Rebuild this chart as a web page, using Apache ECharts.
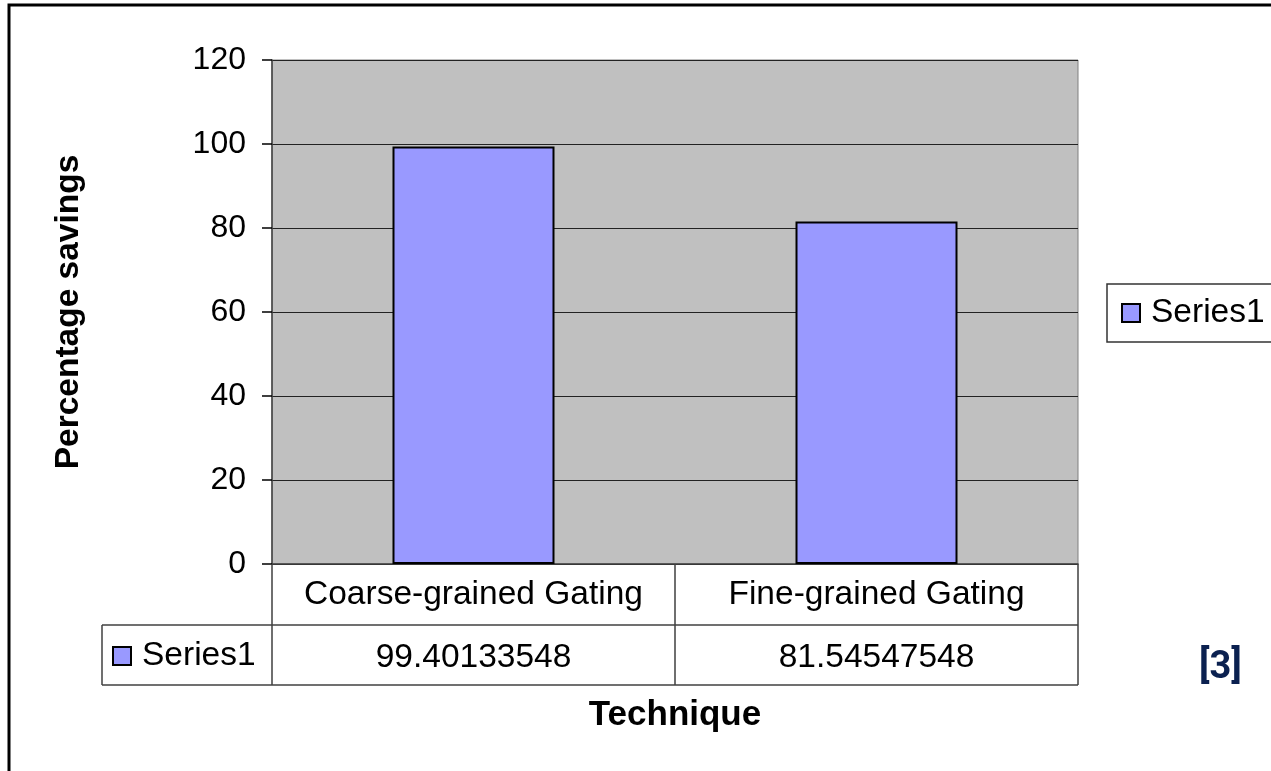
<!DOCTYPE html>
<html>
<head>
<meta charset="utf-8">
<script src="https://cdn.jsdelivr.net/npm/echarts@6/dist/echarts.min.js"></script>
<style>
  html, body { margin: 0; padding: 0; background: #fff; }
  #chart { width: 1271px; height: 771px; }
</style>
</head>
<body>
<div id="chart"></div>
<script>
// data
const categories = ['Coarse-grained Gating', 'Fine-grained Gating'];
const seriesName = 'Series1';
const values = [99.40133548, 81.54547548];
const valueLabels = ['99.40133548', '81.54547548'];
const yTicks = { min: 0, max: 120, step: 20 };

const font = 'Liberation Sans, Arial, sans-serif';
const lineColor = '#404040';

const chart = echarts.init(document.getElementById('chart'));

const legendCommon = {
  data: [seriesName],
  icon: 'rect',
  itemWidth: 18,
  itemHeight: 18,
  itemGap: 0,
  itemStyle: { color: '#9999ff', borderColor: '#000', borderWidth: 2 },
  textStyle: { fontFamily: font, fontSize: 33.5, color: '#000', padding: [0, 0, 0, 6] },
};

chart.setOption({
  animation: false,
  grid: {
    left: 272, top: 60, width: 806, height: 504,
    show: true, backgroundColor: '#c0c0c0', borderColor: '#808080', borderWidth: 1,
  },
  legend: [
    Object.assign({}, legendCommon, {
      left: 1107, top: 284,
      borderColor: '#333', borderWidth: 1.5,
      padding: [12, 20, 12, 14],
    }),
    Object.assign({}, legendCommon, {
      left: 112, top: 639,
      padding: [0, 0, 0, 0],
    }),
  ],
  xAxis: [
    {
      type: 'category',
      data: categories,
      position: 'bottom',
      axisLine: { lineStyle: { color: lineColor, width: 1.5 } },
      axisTick: { show: true, inside: false, interval: 0, length: 121, lineStyle: { color: lineColor, width: 1.5 } },
      axisLabel: { interval: 0, fontFamily: font, fontSize: 33.5, color: '#000', margin: 14 },
      name: 'Technique',
      nameLocation: 'middle',
      nameGap: 134,
      nameTextStyle: { fontFamily: font, fontSize: 35, fontWeight: 'bold', color: '#000' },
    },
    {
      type: 'category',
      data: categories,
      position: 'bottom',
      offset: 60,
      axisLine: { show: false },
      axisTick: { show: false },
      axisLabel: {
        interval: 0,
        fontFamily: font, fontSize: 33.5, color: '#000', margin: 17,
        formatter: (v, i) => valueLabels[i],
      },
    },
  ],
  yAxis: {
    type: 'value',
    min: yTicks.min,
    max: yTicks.max,
    interval: yTicks.step,
    axisLine: { show: true, lineStyle: { color: lineColor, width: 1.5 } },
    axisTick: { show: true, inside: false, length: 10, lineStyle: { color: '#000', width: 1.5 } },
    axisLabel: { fontFamily: font, fontSize: 32, color: '#000', margin: 26 },
    splitLine: { lineStyle: { color: '#222', width: 1 } },
    name: 'Percentage savings',
    nameLocation: 'middle',
    nameRotate: 90,
    nameGap: 186,
    nameTextStyle: { fontFamily: font, fontSize: 33.5, fontWeight: 'bold', color: '#000' },
  },
  series: [
    {
      name: seriesName,
      type: 'bar',
      data: values,
      barWidth: 162,
      itemStyle: { color: '#9999ff', borderColor: '#000', borderWidth: 2 },
    },
  ],
  graphic: [
    // outer chart border
    { type: 'rect', shape: { x: 9, y: 5, width: 1300, height: 800 },
      style: { fill: 'none', stroke: '#000', lineWidth: 3 }, silent: true },
    // data table grid lines
    { type: 'line', shape: { x1: 102, y1: 625, x2: 1078, y2: 625 },
      style: { stroke: lineColor, lineWidth: 1.5 }, silent: true },
    { type: 'line', shape: { x1: 102, y1: 685, x2: 1078, y2: 685 },
      style: { stroke: lineColor, lineWidth: 1.5 }, silent: true },
    { type: 'line', shape: { x1: 102, y1: 625, x2: 102, y2: 685 },
      style: { stroke: lineColor, lineWidth: 1.5 }, silent: true },
    // reference marker
    { type: 'text', left: 1199, top: 649,
      style: { text: '[3]', font: 'bold 38px Roboto, sans-serif', fill: '#0b2150' }, silent: true },
  ],
});
</script>
</body>
</html>
